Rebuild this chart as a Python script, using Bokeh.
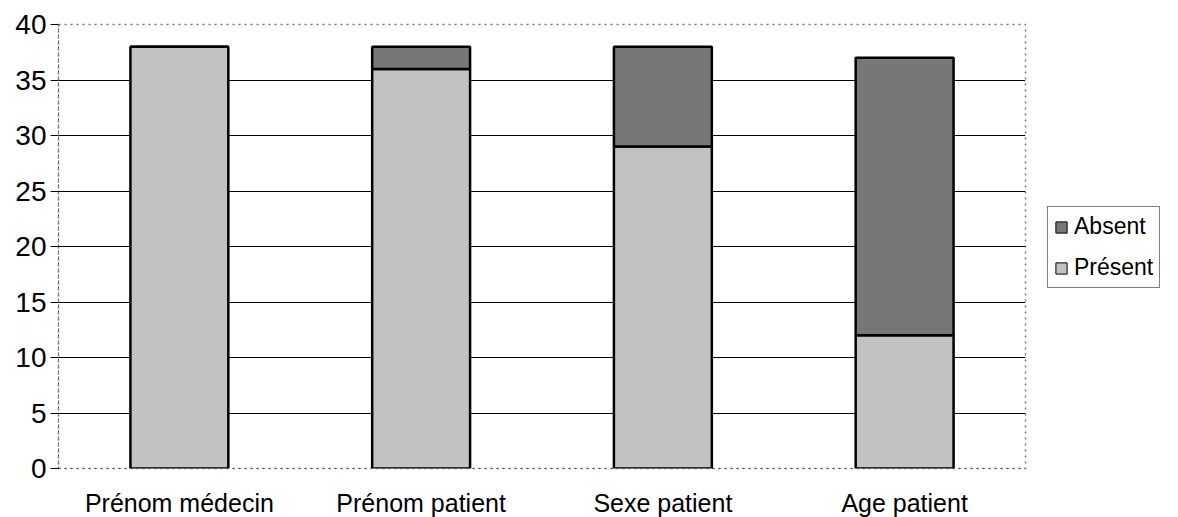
from bokeh.plotting import figure
from bokeh.layouts import row
from bokeh.models import Legend, LegendItem, FixedTicker, ColumnDataSource, FactorRange
from bokeh.embed import file_html
from bokeh.resources import INLINE

categories = ["Prénom médecin", "Prénom patient", "Sexe patient", "Age patient"]
present = [38, 36, 29, 12]
absent = [0, 2, 9, 25]
series = ["Présent", "Absent"]
colors = ["#c2c2c2", "#777777"]

source = ColumnDataSource(dict(cat=categories, Présent=present, Absent=absent))

p = figure(x_range=categories, y_range=(0, 40), output_backend="svg", toolbar_location=None,
           frame_width=967, frame_height=444, min_border_left=58, min_border_top=24,
           min_border_bottom=33, min_border_right=22, background_fill_color="white",
           border_fill_color="white")

r = p.vbar_stack(series, x="cat", width=0.405, source=source, color=colors,
                 line_color="black", line_width=2.5)

p.yaxis.ticker = FixedTicker(ticks=list(range(0, 41, 5)))
p.ygrid.ticker = FixedTicker(ticks=list(range(0, 41, 5)))
p.ygrid.grid_line_color = "black"
p.ygrid.grid_line_width = 1
p.xgrid.grid_line_color = None

p.yaxis.major_label_text_font = "Liberation Sans"
p.yaxis.major_label_text_font_size = "28px"
p.yaxis.major_label_text_color = "black"
p.yaxis.major_tick_out = 8
p.yaxis.major_tick_in = 0
p.yaxis.minor_tick_line_color = None
p.yaxis.major_tick_line_color = "black"
p.yaxis.axis_line_color = "#555555"
p.yaxis.axis_line_dash = "dotted"
p.yaxis.major_label_standoff = 4

p.xaxis.major_label_text_font = "Liberation Sans"
p.xaxis.major_label_text_font_size = "25px"
p.xaxis.major_label_text_color = "black"
p.xaxis.major_tick_line_color = None
p.xaxis.axis_line_color = "#555555"
p.xaxis.axis_line_dash = "dotted"
p.xaxis.major_label_standoff = 14

p.outline_line_color = "#777777"
p.outline_line_dash = "dotted"
p.outline_line_width = 1.5

# legend panel: a small figure whose bars map to no factor of its own range (not drawn)
lg = figure(output_backend="svg", toolbar_location=None, width=115, height=501,
            min_border=0, x_range=FactorRange(factors=["légende"]), y_range=(1000, 1001),
            background_fill_color="white", border_fill_color="white")
lg.axis.visible = False
lg.grid.visible = False
lg.outline_line_color = None
r2 = lg.vbar_stack(series, x="cat", width=0.4, source=source, color=colors,
                   line_color="black", line_width=1)

legend = Legend(items=[LegendItem(label=series[1], renderers=[r2[1]]),
                       LegendItem(label=series[0], renderers=[r2[0]])],
                location=(0, 162))
legend.label_text_font = "Liberation Sans"
legend.label_text_font_size = "23px"
legend.label_text_color = "black"
legend.glyph_width = 14
legend.glyph_height = 14
legend.label_standoff = 6
legend.label_height = 20
legend.spacing = 14
legend.padding = 6
legend.margin = 0
legend.border_line_color = "black"
legend.border_line_width = 1
legend.background_fill_color = "white"
lg.add_layout(legend, "center")

layout = row(p, lg)
open("out.html", "w").write(file_html(layout, INLINE))
